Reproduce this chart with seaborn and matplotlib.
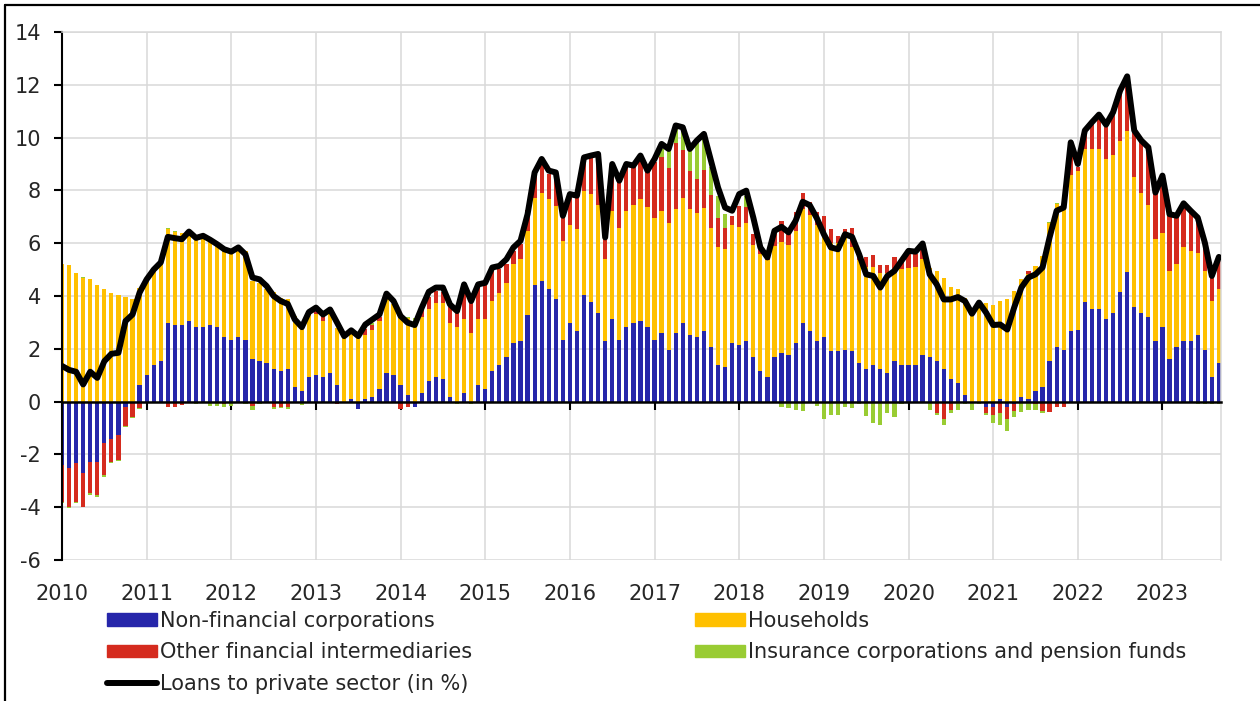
import numpy as np
import matplotlib
matplotlib.use("Agg")
import matplotlib.pyplot as plt
import seaborn as sns
from matplotlib.lines import Line2D
from matplotlib.patches import Patch

# ---------------- data (monthly, Jan 2010 - Sep 2023) ----------------
years = [str(y) for y in range(2010, 2024)]

nfc = [-2.40, -2.52, -2.33, -2.71, -2.27, -2.27, -1.57, -1.42, -1.25, -0.22, 0.00, 0.61,
       1.00, 1.38, 1.53, 2.96, 2.90, 2.90, 3.05, 2.82, 2.82, 2.90, 2.82, 2.44,
       2.35, 2.44, 2.35, 1.60, 1.53, 1.46, 1.22, 1.15, 1.22, 0.54, 0.39, 0.92,
       1.00, 0.92, 1.08, 0.62, 0.00, 0.08, -0.28, 0.08, 0.16, 0.47, 1.08, 1.00,
       0.62, 0.24, -0.20, 0.32, 0.77, 0.92, 0.85, 0.16, 0.00, 0.32, 0.00, 0.62,
       0.47, 1.15, 1.38, 1.68, 2.22, 2.29, 3.28, 4.40, 4.57, 4.27, 3.87, 2.35,
       2.96, 2.67, 4.03, 3.78, 3.34, 2.29, 3.14, 2.35, 2.82, 2.96, 3.05, 2.82,
       2.35, 2.60, 1.97, 2.60, 2.96, 2.52, 2.44, 2.67, 2.06, 1.38, 1.30, 2.22,
       2.14, 2.29, 1.68, 1.15, 0.92, 1.68, 1.84, 1.76, 2.22, 2.97, 2.67, 2.29,
       2.44, 1.91, 1.91, 1.97, 1.91, 1.46, 1.23, 1.38, 1.23, 1.08, 1.53, 1.38,
       1.38, 1.38, 1.76, 1.68, 1.53, 1.23, 0.85, 0.70, 0.24, 0.00, 0.00, -0.20,
       -0.20, 0.08, -0.20, -0.10, 0.16, 0.08, 0.39, 0.54, 1.53, 2.06, 1.97, 2.67,
       2.73, 3.78, 3.49, 3.49, 3.11, 3.34, 4.16, 4.92, 3.58, 3.34, 3.20, 2.29,
       2.82, 1.60, 2.06, 2.29, 2.29, 2.52, 1.97, 0.92, 1.46]

households = [5.20, 5.16, 4.86, 4.68, 4.63, 4.41, 4.25, 4.10, 4.03, 3.96, 3.87, 3.71,
              3.70, 3.62, 3.74, 3.57, 3.54, 3.47, 3.42, 3.42, 3.38, 3.19, 3.18, 3.40,
              3.36, 3.33, 3.35, 2.97, 2.97, 2.79, 2.94, 2.76, 2.65, 2.70, 2.41, 2.38,
              2.30, 2.13, 2.41, 2.18, 2.42, 2.59, 2.55, 2.46, 2.57, 2.58, 2.92, 2.68,
              2.62, 2.94, 3.05, 2.88, 2.72, 2.83, 2.87, 2.83, 2.82, 2.82, 2.60, 2.52,
              2.67, 2.66, 2.75, 2.82, 2.99, 3.10, 3.19, 3.33, 3.35, 3.40, 3.54, 3.73,
              3.73, 3.86, 3.94, 4.10, 4.10, 3.10, 4.09, 4.24, 4.41, 4.48, 4.62, 4.57,
              4.62, 4.61, 4.78, 4.70, 4.77, 4.77, 4.70, 4.68, 4.53, 4.48, 4.47, 4.48,
              4.46, 4.47, 4.25, 4.43, 4.43, 4.22, 4.19, 4.18, 4.23, 4.32, 4.41, 4.41,
              4.00, 4.08, 4.08, 4.39, 3.95, 3.90, 3.85, 3.72, 3.63, 3.78, 3.44, 3.63,
              3.67, 3.72, 3.63, 3.37, 3.42, 3.47, 3.49, 3.58, 3.70, 3.46, 3.60, 3.75,
              3.66, 3.73, 3.87, 4.19, 4.47, 4.75, 4.75, 4.97, 5.22, 5.44, 5.76, 5.92,
              5.99, 5.78, 6.08, 6.08, 6.08, 6.00, 5.70, 5.32, 4.94, 4.56, 4.25, 3.86,
              3.56, 3.34, 3.16, 3.57, 3.42, 3.10, 2.97, 2.89, 2.82]

ofi = [-1.40, -1.46, -1.46, -1.27, -1.20, -1.27, -1.20, -0.85, -0.95, -0.70, -0.58, -0.25,
       -0.05, 0.00, 0.00, -0.20, -0.20, -0.12, 0.00, 0.00, 0.00, 0.00, 0.00, -0.10,
       0.00, 0.00, 0.00, -0.15, 0.00, 0.00, -0.20, -0.20, -0.20, -0.05, -0.05, 0.09,
       0.15, 0.19, 0.00, -0.10, 0.00, 0.00, 0.00, 0.20, 0.16, 0.15, 0.00, 0.00,
       -0.28, -0.20, 0.00, 0.38, 0.47, 0.44, 0.44, 0.59, 0.76, 1.20, 1.20, 1.30,
       1.43, 1.14, 0.89, 0.72, 0.50, 0.57, 0.80, 0.90, 1.08, 0.95, 1.20, 1.14,
       1.04, 1.27, 1.29, 1.43, 1.96, 0.82, 1.70, 1.77, 1.70, 1.50, 1.46, 1.48,
       2.10, 2.05, 2.11, 2.49, 1.81, 1.43, 1.28, 1.44, 1.23, 1.11, 0.82, 0.34,
       0.82, 0.60, 0.40, 0.20, 0.16, 0.60, 0.82, 0.47, 0.72, 0.60, 0.47, 0.50,
       0.60, 0.54, 0.29, 0.16, 0.73, 0.23, 0.40, 0.46, 0.32, 0.32, 0.50, 0.34,
       0.53, 0.48, 0.44, 0.00, -0.43, -0.66, -0.30, 0.00, 0.00, 0.00, 0.00, -0.23,
       -0.30, -0.43, -0.45, -0.25, 0.00, 0.13, -0.10, -0.37, -0.40, -0.20, -0.20, 0.80,
       0.18, 0.82, 1.07, 1.20, 1.33, 1.56, 1.85, 1.99, 1.81, 2.10, 2.18, 1.77,
       2.05, 2.15, 1.87, 1.49, 1.52, 1.42, 1.10, 0.89, 1.05]

icpf = [-0.05, -0.06, -0.06, 0.03, -0.06, -0.06, -0.09, -0.06, -0.06, -0.06, -0.06, -0.03,
        0.03, -0.05, 0.00, 0.04, 0.03, 0.00, 0.00, -0.10, 0.00, -0.15, -0.15, -0.10,
        -0.15, 0.00, -0.10, -0.15, -0.10, 0.00, -0.07, -0.05, -0.07, 0.00, -0.07, -0.05,
        0.00, -0.05, 0.00, 0.00, 0.00, 0.00, 0.10, 0.00, 0.10, 0.00, 0.00, 0.00,
        0.00, 0.03, 0.10, 0.00, 0.00, 0.00, 0.00, -0.05, -0.10, -0.05, -0.10, -0.05,
        -0.05, -0.05, -0.05, -0.05, -0.05, -0.05, 0.00, 0.00, 0.00, 0.00, 0.00, -0.05,
        0.00, 0.00, 0.00, 0.00, 0.00, -0.05, 0.00, 0.00, 0.00, 0.00, 0.00, 0.00,
        0.00, 0.32, 0.63, 0.60, 0.85, 0.85, 1.40, 1.28, 1.05, 0.80, 0.50, 0.00,
        0.00, 0.44, 0.00, 0.00, 0.00, 0.00, -0.20, -0.25, -0.30, -0.35, -0.05, -0.15,
        -0.65, -0.50, -0.50, -0.20, -0.25, -0.10, -0.55, -0.80, -0.90, -0.45, -0.60, -0.10,
        0.00, 0.00, 0.00, -0.30, -0.06, -0.22, -0.15, -0.30, -0.10, -0.30, -0.10, -0.06,
        -0.32, -0.45, -0.45, -0.25, -0.40, -0.30, -0.20, -0.06, 0.05, 0.04, 0.00, 0.00,
        0.00, 0.00, 0.00, 0.00, 0.00, 0.00, 0.00, 0.00, 0.00, 0.00, 0.00, 0.00,
        0.00, 0.00, 0.00, 0.00, 0.00, -0.10, -0.10, -0.10, -0.10]

loans = [1.35, 1.20, 1.13, 0.65, 1.13, 0.90, 1.53, 1.81, 1.85, 3.05, 3.30, 4.13,
         4.63, 5.00, 5.27, 6.24, 6.19, 6.15, 6.44, 6.20, 6.28, 6.13, 5.96, 5.77,
         5.68, 5.84, 5.58, 4.70, 4.63, 4.38, 4.00, 3.81, 3.70, 3.11, 2.82, 3.39,
         3.56, 3.30, 3.49, 2.99, 2.48, 2.70, 2.48, 2.92, 3.11, 3.30, 4.09, 3.81,
         3.24, 2.99, 2.90, 3.56, 4.16, 4.32, 4.32, 3.68, 3.43, 4.44, 3.81, 4.44,
         4.50, 5.08, 5.14, 5.39, 5.84, 6.09, 7.10, 8.68, 9.19, 8.75, 8.68, 7.04,
         7.86, 7.80, 9.25, 9.32, 9.38, 6.22, 9.00, 8.37, 9.00, 8.94, 9.32, 8.75,
         9.19, 9.76, 9.57, 10.46, 10.39, 9.57, 9.89, 10.14, 9.13, 8.11, 7.35, 7.23,
         7.86, 7.99, 6.97, 5.84, 5.46, 6.47, 6.62, 6.41, 6.85, 7.57, 7.44, 6.95,
         6.34, 5.84, 5.77, 6.34, 6.24, 5.58, 4.82, 4.76, 4.32, 4.76, 4.95, 5.33,
         5.71, 5.68, 5.99, 4.82, 4.44, 3.87, 3.87, 3.96, 3.81, 3.33, 3.75, 3.37,
         2.90, 2.92, 2.73, 3.58, 4.32, 4.70, 4.82, 5.08, 6.22, 7.23, 7.35, 9.82,
         9.00, 10.27, 10.58, 10.87, 10.49, 10.96, 11.78, 12.32, 10.27, 9.89, 9.63, 7.92,
         8.56, 7.10, 7.04, 7.51, 7.23, 6.97, 6.03, 4.76, 5.48]

labels = ["Non-financial corporations", "Households",
          "Other financial intermediaries", "Insurance corporations and pension funds"]
line_label = "Loans to private sector (in %)"
colors = ["#2626AA", "#FFC000", "#D52B1E", "#99CC33"]

# ---------------- style ----------------
sns.set_style("white")
plt.rcParams['font.family'] = ['DejaVu Sans']
plt.rcParams['axes.unicode_minus'] = False
FS = 15
GRID = "#D9D9D9"

W, H = 1260, 701
fig = plt.figure(figsize=(W / 100, H / 100), dpi=100)
L, R, T, B = 62, 1221, 32, 560
ax = fig.add_axes([L / W, 1 - B / H, (R - L) / W, (B - T) / H])

n = len(loans)
idx = np.arange(n)
pos_b = np.zeros(n)
neg_b = np.zeros(n)
for vals, col in zip([nfc, households, ofi, icpf], colors):
    v = np.asarray(vals, dtype=float)
    p = np.where(v > 0, v, 0.0)
    q = np.where(v < 0, v, 0.0)
    ax.bar(idx, p, bottom=pos_b, width=0.6, color=col, linewidth=0, zorder=2)
    ax.bar(idx, q, bottom=neg_b, width=0.6, color=col, linewidth=0, zorder=2)
    pos_b += p
    neg_b += q

sns.lineplot(x=idx, y=loans, ax=ax, color="black", linewidth=4.3, zorder=4,
             legend=False, solid_joinstyle="round", solid_capstyle="round")

# ---------------- axes ----------------
ax.set_xlim(0, 164.3)
ax.set_ylim(-6, 14)
ax.set_yticks(np.arange(-6, 15, 2))
ax.set_xticks(np.arange(0, n, 12))
ax.set_xlabel("")
ax.set_ylabel("")
ax.grid(True, color=GRID, linewidth=1.1)
ax.set_axisbelow(True)

ax.spines['bottom'].set_position(('data', 0))
ax.spines['bottom'].set_color("black")
ax.spines['bottom'].set_linewidth(1.8)
ax.spines['bottom'].set_zorder(3)
ax.spines['left'].set_color("black")
ax.spines['left'].set_linewidth(1.5)
for s in ['top', 'right']:
    ax.spines[s].set_color(GRID)
    ax.spines[s].set_linewidth(1.1)

ax.tick_params(axis='x', direction='out', length=6, width=1.5, color='black',
               labelbottom=False, bottom=True)
ax.tick_params(axis='y', direction='out', length=6, width=1.5, color='black',
               labelsize=FS, pad=9, left=True)

secax = ax.secondary_xaxis(0.0)
secax.set_xticks(np.arange(0, n, 12), labels=years)
secax.tick_params(length=0, pad=17, labelsize=FS)
secax.spines['bottom'].set_visible(False)

# ---------------- legend ----------------
handles = [Patch(color=colors[0]), Patch(color=colors[2]),
           Line2D([0], [0], color="black", linewidth=4.3, solid_capstyle="round"),
           Patch(color=colors[1]), Patch(color=colors[3])]
leg_labels = [labels[0], labels[2], line_label, labels[1], labels[3]]
fig.legend(handles, leg_labels, ncol=2, loc='upper left',
           bbox_to_anchor=(107 / W, 1 - 611 / H), frameon=False, fontsize=FS,
           handlelength=2.4, handleheight=0.55, handletextpad=0.15,
           columnspacing=10.7, labelspacing=0.55, borderpad=0, borderaxespad=0)

# ---------------- outer frame ----------------
fig.add_artist(Line2D([5 / W, 1], [1 - 5 / H, 1 - 5 / H], transform=fig.transFigure,
                      color="black", linewidth=1.6))
fig.add_artist(Line2D([5 / W, 5 / W], [0, 1 - 5 / H], transform=fig.transFigure,
                      color="black", linewidth=1.6))

fig.savefig("out.png", dpi=100)
